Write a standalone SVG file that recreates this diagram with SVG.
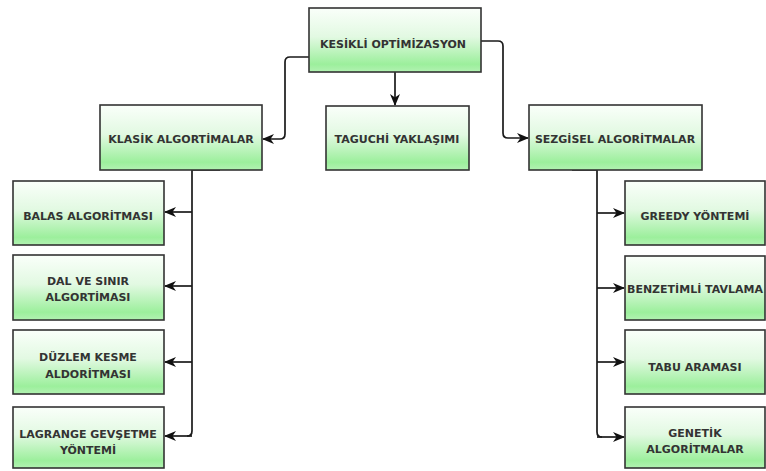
<svg xmlns="http://www.w3.org/2000/svg" width="766" height="471" viewBox="0 0 766 471">
  <defs>
    <linearGradient id="boxFill" x1="0" y1="0" x2="0" y2="1">
      <stop offset="0" stop-color="#fafffa"/>
      <stop offset="0.45" stop-color="#e2f9e2"/>
      <stop offset="0.88" stop-color="#9cef9c"/>
      <stop offset="1" stop-color="#b2f2b2"/>
    </linearGradient>
    <marker id="arrow" markerUnits="userSpaceOnUse" markerWidth="14" markerHeight="12" refX="11" refY="6" orient="auto">
      <path d="M0,1 L12,6 L0,11 L3.5,6 Z" fill="#111"/>
    </marker>
  </defs>
  <style>
    .box { fill: url(#boxFill); stroke: #333; stroke-width: 1.6; }
    .label { font-family: "DejaVu Sans", "Liberation Sans", sans-serif; font-weight: bold; font-size: 11px; fill: #333; text-anchor: middle; }
    .edge { fill: none; stroke: #1a1a1a; stroke-width: 1.7; stroke-linejoin: round; }
  </style>
  <rect width="766" height="471" fill="#fff"/>

  <g id="connectors">
    <!-- top node to the three categories -->
    <path class="edge" d="M309,57 H290 Q285,57 285,62 V134 Q285,139 280,139 H263" marker-end="url(#arrow)"/>
    <path class="edge" d="M395,72 V105" marker-end="url(#arrow)"/>
    <path class="edge" d="M481,41 H498 Q503,41 503,46 V133 Q503,138 508,138 H528" marker-end="url(#arrow)"/>
    <!-- classic algorithms branch -->
    <path class="edge" d="M220,170 H192 V431 Q192,436 187,436"/>
    <path class="edge" d="M192,212 H165" marker-end="url(#arrow)"/>
    <path class="edge" d="M192,286 H165" marker-end="url(#arrow)"/>
    <path class="edge" d="M192,362 H165" marker-end="url(#arrow)"/>
    <path class="edge" d="M192,436 H165" marker-end="url(#arrow)"/>
    <!-- heuristic algorithms branch -->
    <path class="edge" d="M572,170 H597 V432 Q597,437 602,437"/>
    <path class="edge" d="M597,213 H624" marker-end="url(#arrow)"/>
    <path class="edge" d="M597,288 H624" marker-end="url(#arrow)"/>
    <path class="edge" d="M597,362 H624" marker-end="url(#arrow)"/>
    <path class="edge" d="M597,437 H624" marker-end="url(#arrow)"/>
  </g>

  <g id="kesikli-optimizasyon">
    <rect class="box" x="309" y="8" width="172" height="64"/>
    <text class="label" x="393" y="48">KESİKLİ OPTİMİZASYON</text>
  </g>
  <g id="klasik-algoritmalar">
    <rect class="box" x="100" y="105" width="162" height="65"/>
    <text class="label" x="181" y="143">KLASİK ALGORTİMALAR</text>
  </g>
  <g id="taguchi">
    <rect class="box" x="326" y="106" width="143" height="64"/>
    <text class="label" x="397" y="143">TAGUCHİ YAKLAŞIMI</text>
  </g>
  <g id="sezgisel-algoritmalar">
    <rect class="box" x="529" y="105" width="173" height="65"/>
    <text class="label" x="615" y="143">SEZGİSEL ALGORİTMALAR</text>
  </g>

  <g id="balas">
    <rect class="box" x="13" y="181" width="151" height="64"/>
    <text class="label" x="88" y="220">BALAS ALGORİTMASI</text>
  </g>
  <g id="dal-ve-sinir">
    <rect class="box" x="13" y="255" width="151" height="65"/>
    <text class="label" x="88" y="285">DAL VE SINIR</text>
    <text class="label" x="88" y="301">ALGORTİMASI</text>
  </g>
  <g id="duzlem-kesme">
    <rect class="box" x="13" y="330" width="151" height="64"/>
    <text class="label" x="88" y="361">DÜZLEM KESME</text>
    <text class="label" x="88" y="378">ALDORİTMASI</text>
  </g>
  <g id="lagrange">
    <rect class="box" x="13" y="407" width="151" height="61"/>
    <text class="label" x="88" y="438">LAGRANGE GEVŞETME</text>
    <text class="label" x="88" y="454">YÖNTEMİ</text>
  </g>

  <g id="greedy">
    <rect class="box" x="625" y="181" width="140" height="64"/>
    <text class="label" x="695" y="220">GREEDY YÖNTEMİ</text>
  </g>
  <g id="benzetimli-tavlama">
    <rect class="box" x="625" y="256" width="140" height="64"/>
    <text class="label" x="695" y="293">BENZETİMLİ TAVLAMA</text>
  </g>
  <g id="tabu">
    <rect class="box" x="625" y="330" width="140" height="64"/>
    <text class="label" x="695" y="371">TABU ARAMASI</text>
  </g>
  <g id="genetik">
    <rect class="box" x="625" y="407" width="140" height="61"/>
    <text class="label" x="695" y="437">GENETİK</text>
    <text class="label" x="695" y="453">ALGORİTMALAR</text>
  </g>
</svg>
